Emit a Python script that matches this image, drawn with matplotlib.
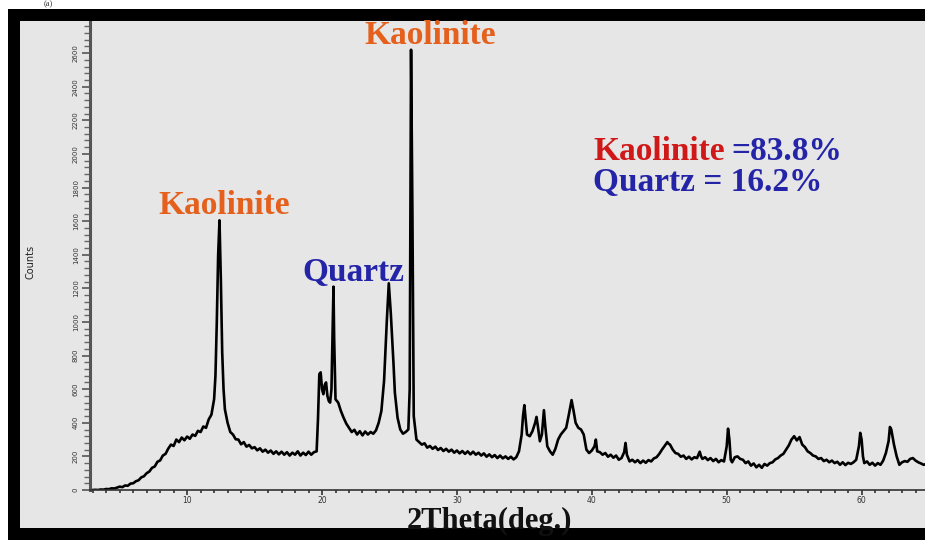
import matplotlib
matplotlib.use("Agg")
import matplotlib.pyplot as plt
from matplotlib.patches import Rectangle
from matplotlib.ticker import MultipleLocator

# ---------------- data ----------------
two_theta = [
    3.0, 3.2, 3.4, 3.6, 3.8, 4.0, 4.2, 4.4, 4.6, 4.8,
    5.0, 5.2, 5.4, 5.6, 5.8, 6.0, 6.2, 6.4, 6.6, 6.8,
    7.0, 7.2, 7.4, 7.6, 7.8, 8.0, 8.2, 8.4, 8.6, 8.8,
    9.0, 9.2, 9.4, 9.6, 9.8, 10.0, 10.2, 10.4, 10.6, 10.8,
    11.0, 11.2, 11.4, 11.6, 11.8, 12.0, 12.1, 12.2, 12.3, 12.4,
    12.5, 12.6, 12.7, 12.8, 13.0, 13.2, 13.4, 13.6, 13.8, 14.0,
    14.2, 14.4, 14.6, 14.8, 15.0, 15.2, 15.4, 15.6, 15.8, 16.0,
    16.2, 16.4, 16.6, 16.8, 17.0, 17.2, 17.4, 17.6, 17.8, 18.0,
    18.2, 18.4, 18.6, 18.8, 19.0, 19.2, 19.4, 19.6, 19.7, 19.8,
    19.9, 20.0, 20.1, 20.2, 20.3, 20.4, 20.5, 20.6, 20.7, 20.8,
    20.85, 20.9, 21.0, 21.2, 21.4, 21.6, 21.8, 22.0, 22.2, 22.4,
    22.6, 22.8, 23.0, 23.2, 23.4, 23.6, 23.8, 24.0, 24.2, 24.4,
    24.6, 24.8, 24.95, 25.1, 25.2, 25.3, 25.4, 25.6, 25.8, 26.0,
    26.2, 26.4, 26.5, 26.6, 26.7, 26.8, 27.0, 27.2, 27.4, 27.6,
    27.8, 28.0, 28.2, 28.4, 28.6, 28.8, 29.0, 29.2, 29.4, 29.6,
    29.8, 30.0, 30.2, 30.4, 30.6, 30.8, 31.0, 31.2, 31.4, 31.6,
    31.8, 32.0, 32.2, 32.4, 32.6, 32.8, 33.0, 33.2, 33.4, 33.6,
    33.8, 34.0, 34.2, 34.4, 34.6, 34.8, 34.9, 35.0, 35.1, 35.2,
    35.4, 35.6, 35.8, 35.9, 36.0, 36.15, 36.3, 36.45, 36.55, 36.7,
    36.9, 37.1, 37.3, 37.5, 37.7, 37.9, 38.1, 38.3, 38.5, 38.65,
    38.8, 39.0, 39.2, 39.4, 39.6, 39.8, 40.0, 40.2, 40.3, 40.4,
    40.6, 40.8, 41.0, 41.2, 41.4, 41.6, 41.8, 42.0, 42.2, 42.4,
    42.5, 42.6, 42.8, 43.0, 43.2, 43.4, 43.6, 43.8, 44.0, 44.2,
    44.4, 44.6, 44.8, 45.0, 45.2, 45.4, 45.6, 45.7, 45.8, 46.0,
    46.2, 46.4, 46.6, 46.8, 47.0, 47.2, 47.4, 47.6, 47.8, 48.0,
    48.1, 48.2, 48.4, 48.6, 48.8, 49.0, 49.2, 49.4, 49.6, 49.8,
    50.0, 50.1, 50.2, 50.3, 50.4, 50.6, 50.8, 51.0, 51.2, 51.4,
    51.6, 51.8, 52.0, 52.2, 52.4, 52.6, 52.8, 53.0, 53.2, 53.4,
    53.6, 53.8, 54.0, 54.2, 54.4, 54.6, 54.8, 55.0, 55.2, 55.4,
    55.6, 55.8, 56.0, 56.2, 56.4, 56.6, 56.8, 57.0, 57.2, 57.4,
    57.6, 57.8, 58.0, 58.2, 58.4, 58.6, 58.8, 59.0, 59.2, 59.4,
    59.6, 59.8, 59.9, 60.0, 60.1, 60.2, 60.4, 60.6, 60.8, 61.0,
    61.2, 61.4, 61.6, 61.8, 62.0, 62.1, 62.2, 62.4, 62.6, 62.8,
    63.0, 63.2, 63.4, 63.6, 63.8, 64.0, 64.2, 64.4, 64.6, 64.8,
]
counts = [
    0, 1, 0, 3, 2, 6, 5, 10, 9, 14,
    20, 17, 27, 25, 38, 40, 52, 58, 75, 82,
    100, 110, 132, 140, 168, 176, 205, 215, 246, 270,
    262, 300, 285, 312, 296, 318, 305, 330, 322, 352,
    345, 378, 370, 420, 448, 540, 680, 1000, 1400, 1605,
    1250, 820, 600, 480, 400, 345, 330, 302, 300, 272,
    285, 258, 268, 248, 255, 236, 248, 228, 240, 222,
    235, 215, 230, 212, 228, 210, 225, 205, 222, 210,
    230, 205, 222, 208, 228, 210, 225, 230, 420, 690,
    700, 600, 570, 625, 640, 560, 530, 520, 600, 1000,
    1210, 900, 540, 520, 470, 430, 395, 370, 345, 358,
    330, 350, 325, 348, 330, 345, 335, 355, 400, 470,
    650, 1000, 1230, 1050, 900, 750, 580, 430, 360, 335,
    345, 360, 600, 2620, 1660, 440, 300, 285, 270, 278,
    252, 262, 245, 258, 238, 250, 232, 245, 228, 240,
    222, 235, 218, 232, 215, 230, 212, 228, 210, 222,
    205, 218, 198, 212, 195, 208, 190, 205, 188, 200,
    185, 198, 182, 195, 230, 330, 440, 505, 420, 330,
    320, 350, 400, 435, 380, 290, 330, 475, 380, 260,
    230, 210, 245, 300, 330, 350, 370, 450, 535, 470,
    400, 370, 360, 330, 240, 220, 235, 260, 300, 230,
    225, 210, 220, 198, 210, 192, 205, 180, 190, 225,
    280, 210, 170, 180, 165, 178, 160, 175, 162, 178,
    170, 188, 195, 215, 240, 262, 285, 275, 270, 240,
    220, 215, 198, 205, 185, 198, 182, 195, 190, 228,
    200, 185, 195, 178, 190, 172, 185, 165, 178, 170,
    260, 365, 300, 180, 165, 195, 200, 185, 180, 160,
    170, 145, 158, 135, 150, 132, 155, 145, 160, 165,
    182, 190, 205, 215, 240, 265, 300, 320, 295, 315,
    270, 255, 230, 220, 205, 200, 185, 190, 172, 180,
    165, 175, 160, 168, 150, 165, 148, 162, 155, 165,
    180, 260, 340, 300, 200, 160, 170, 150, 162, 145,
    160, 150, 175, 220, 290, 375, 360, 270, 200, 150,
    165, 172, 168, 185, 190, 175, 165, 158, 150, 155,
]

x_major_ticks = [10, 20, 30, 40, 50, 60]
y_major_ticks = [0, 200, 400, 600, 800, 1000, 1200, 1400, 1600, 1800,
                 2000, 2200, 2400, 2600]

phase_names = ["Kaolinite", "Quartz"]
phase_percent = ["83.8%", "16.2%"]

# ---------------- figure ----------------
W, H = 925, 540
fig = plt.figure(figsize=(W / 100, H / 100), dpi=100, facecolor="white")

def fx(px):
    return px / W

def fy(py):
    return 1 - py / H

# black frame and gray panel (drawn beneath the axes)
fig.patches.append(Rectangle((fx(8), fy(540)), fx(940) - fx(8), fy(9) - fy(540),
                             transform=fig.transFigure, facecolor="black",
                             edgecolor="none", zorder=-10))
fig.patches.append(Rectangle((fx(20), fy(528)), fx(940) - fx(20), fy(21) - fy(528),
                             transform=fig.transFigure, facecolor="#e6e6e6",
                             edgecolor="none", zorder=-9))

ax = fig.add_axes([fx(90), fy(490), fx(925) - fx(90), fy(22) - fy(490)])
ax.set_zorder(2)
ax.set_facecolor("none")
ax.plot(two_theta, counts, color="black", lw=1.9)

ax.set_xlim(2.8, 64.7)
ax.set_ylim(0, 2785)
for s in ["top", "right"]:
    ax.spines[s].set_visible(False)
ax.spines["left"].set_color("#555555")
ax.spines["left"].set_linewidth(2.2)
ax.spines["bottom"].set_color("#333333")
ax.spines["bottom"].set_linewidth(1.2)

ax.set_xticks(x_major_ticks)
ax.set_xticklabels([str(t) for t in x_major_ticks], fontsize=5.5, color="#333333")
ax.xaxis.set_minor_locator(MultipleLocator(1))
ax.tick_params(axis="x", which="major", length=3.5, width=1.2, color="#333333", pad=0.8)
ax.tick_params(axis="x", which="minor", length=2.2, width=1.2, color="#333333")

ax.set_yticks(y_major_ticks)
ax.set_yticklabels([str(t) for t in y_major_ticks], fontsize=5, rotation=90,
                   va="center", color="#333333")
ax.yaxis.set_minor_locator(MultipleLocator(40))
ax.tick_params(axis="y", which="major", length=6, width=1.2, color="#555555", pad=2)
ax.tick_params(axis="y", which="minor", length=4, width=1.0, color="#666666")

fig.text(fx(31), fy(262), "Counts", rotation=90, fontsize=7, ha="center",
         va="center", color="#222222", zorder=3)

serif = ["Liberation Serif", "DejaVu Serif"]
fig.text(fx(489), fy(521), "2Theta(deg.)", fontsize=22, fontweight="bold",
         family=serif, ha="center", va="center", color="#111111", zorder=3)

orange = "#e4601c"
red = "#d01818"
blue = "#2424a8"

fs = 24
fig.text(fx(430), fy(36), phase_names[0], fontsize=fs, fontweight="bold",
         family=serif, ha="center", va="center", color=orange, zorder=3)
fig.text(fx(224), fy(205), phase_names[0], fontsize=fs, fontweight="bold",
         family=serif, ha="center", va="center", color=orange, zorder=3)
fig.text(fx(353), fy(273), phase_names[1], fontsize=fs, fontweight="bold",
         family=serif, ha="center", va="center", color=blue, zorder=3)

fig.text(fx(593), fy(151), phase_names[0], fontsize=fs, fontweight="bold",
         family=serif, ha="left", va="center", color=red, zorder=3)
fig.text(fx(731), fy(151), "=" + phase_percent[0], fontsize=fs, fontweight="bold",
         family=serif, ha="left", va="center", color=blue, zorder=3)
fig.text(fx(593), fy(183), phase_names[1] + " = " + phase_percent[1], fontsize=fs,
         fontweight="bold", family=serif, ha="left", va="center", color=blue, zorder=3)

fig.text(fx(48), fy(0.5), "(a)", fontsize=6, family=serif, ha="center",
         va="top", color="#333333")

fig.savefig("out.png", dpi=100, facecolor="white")
